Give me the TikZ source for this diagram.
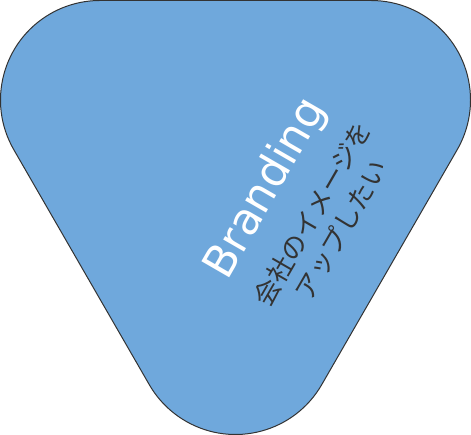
\documentclass[tikz,border=0pt]{standalone}
\usepackage{fontspec}
\newfontfamily\jpfont{Noto Sans CJK JP}
\newfontfamily\brandfont{DejaVu Sans}
\usetikzlibrary{positioning}
\definecolor{brandblue}{HTML}{6FA8DC}
\definecolor{inkgray}{HTML}{333333}

\begin{document}
\begin{tikzpicture}[x=1pt, y=1pt,
	blob/.style = {fill=brandblue, draw=inkgray, line width=1pt},
	title/.style = {text=white, inner sep=0pt, rotate=60, anchor=base,
		font=\brandfont\fontsize{44}{44}\selectfont},
	wish/.style = {text=inkgray, inner sep=0pt, rotate=60,
		font=\jpfont\fontsize{26}{26}\selectfont}]
	\useasboundingbox (0,0) rectangle (471,435);
	% rounded triangle
	\draw [blob] (100,434.5) -- (371,434.5) arc (90:-30:99.5)
		-- (321.67,50.25) arc (-30:-150:99.5)
		-- (13.83,285.25) arc (210:90:99.5) -- cycle;
	\node (brand) [title] at (277,240) {Branding};
	\node (wish1) [wish] at (312.5,221.5) {会社のイメージを};
	\node (wish2) [wish] at (341,205) {アップしたい};
\end{tikzpicture}
\end{document}
